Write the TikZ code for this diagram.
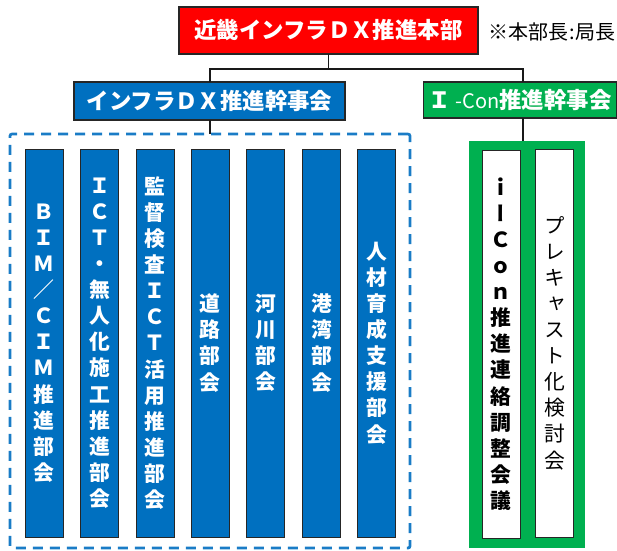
\documentclass[tikz,border=0pt]{standalone}
\usepackage{fontspec}
\setmainfont{Noto Sans CJK JP}
\newfontfamily\jpvert{Noto Sans CJK JP}[RawFeature=+vert]
\definecolor{dxred}{HTML}{FF0000}
\definecolor{dxblue}{HTML}{0070C0}
\definecolor{dxgreen}{HTML}{00B050}
\definecolor{dxdash}{HTML}{1A7CC6}
\begin{document}
\begin{tikzpicture}[x=1pt,y=-1pt,
  hdr/.style={draw=black!85, line width=1.3pt, inner sep=0pt, outer sep=0pt, text=white,
    font=\bfseries\fontsize{22.4}{26}\selectfont},
  col/.style={draw=black!85, line width=0.9pt, inner sep=0pt, outer sep=0pt,
    minimum width=38pt, minimum height=388pt, align=center,
    font=\bfseries\fontsize{20.8}{26.1}\selectfont},
  bcol/.style={col, fill=dxblue, text=white},
  wcol/.style={col, fill=white, text=black},
  conn/.style={draw=black!90, line width=1.4pt}
]
\useasboundingbox (0,0) rectangle (617,550);

% containers
\node[draw=dxdash, line width=2.7pt, dash pattern=on 10pt off 7pt, rounded corners=2pt,
  minimum width=400pt, minimum height=414pt, inner sep=0pt, outer sep=0pt] (dash) at (210,341) {};
\node[fill=dxgreen, minimum width=116pt, minimum height=407pt, inner sep=0pt, outer sep=0pt] (gbox) at (527,344.5) {};

% headers
\node[hdr, fill=dxred, minimum width=299pt, minimum height=47pt] (hq) at (328.5,30.5) {近畿インフラＤＸ推進本部};
\node[anchor=west, font=\fontsize{20}{24}\selectfont, inner sep=0pt] (note) at (488,32) {※本部長\hspace{1pt}:\hspace{1pt}局長};
\node[hdr, fill=dxblue, minimum width=271pt, minimum height=38pt] (dx) at (209.5,101) {インフラＤＸ推進幹事会};
\node[hdr, fill=dxgreen, minimum width=193pt, minimum height=36pt] (ic) at (520,100) {Ｉ{\mdseries\fontsize{20}{24}\selectfont\ -Con}推進幹事会};

% connectors
\coordinate (j) at (hq.south |- 0,69);
\draw[conn] (hq.south) -- (j);
\draw[conn] (dx.north -| 210,0) |- (j) -| (ic.north -| 523,0);
\draw[conn] (dx.south -| 210,0) -- (dash.north -| 210,0);
\draw[conn] (ic.south -| 523,0) -- (gbox.north -| 523,0);

% blue columns
\node[bcol] (c1) at (44,343) {Ｂ\\Ｉ\\Ｍ\\／\\Ｃ\\Ｉ\\Ｍ\\推\\進\\部\\会};
\node[bcol] (c2) at (99.5,343) {Ｉ\\Ｃ\\Ｔ\\・\\無\\人\\化\\施\\工\\推\\進\\部\\会};
\node[bcol] (c3) at (155,343) {監\\督\\検\\査\\Ｉ\\Ｃ\\Ｔ\\活\\用\\推\\進\\部\\会};
\node[bcol] (c4) at (210,343) {道\\路\\部\\会};
\node[bcol] (c5) at (265.5,343) {河\\川\\部\\会};
\node[bcol] (c6) at (321.5,343) {港\\湾\\部\\会};
\node[bcol] (c7) at (376.5,343) {人\\材\\育\\成\\支\\援\\部\\会};

% white columns
\node[wcol, font=\jpvert\bfseries\fontsize{20.8}{26.1}\selectfont] (g1) at (501,344) {ｉ\\ー\\Ｃ\\ｏ\\ｎ\\推\\進\\連\\絡\\調\\整\\会\\議};
\node[wcol, font=\jpvert\mdseries\fontsize{20.8}{26.1}\selectfont] (g2) at (554.5,343) {プ\\レ\\キ\\ャ\\ス\\ト\\化\\検\\討\\会};
\end{tikzpicture}
\end{document}
